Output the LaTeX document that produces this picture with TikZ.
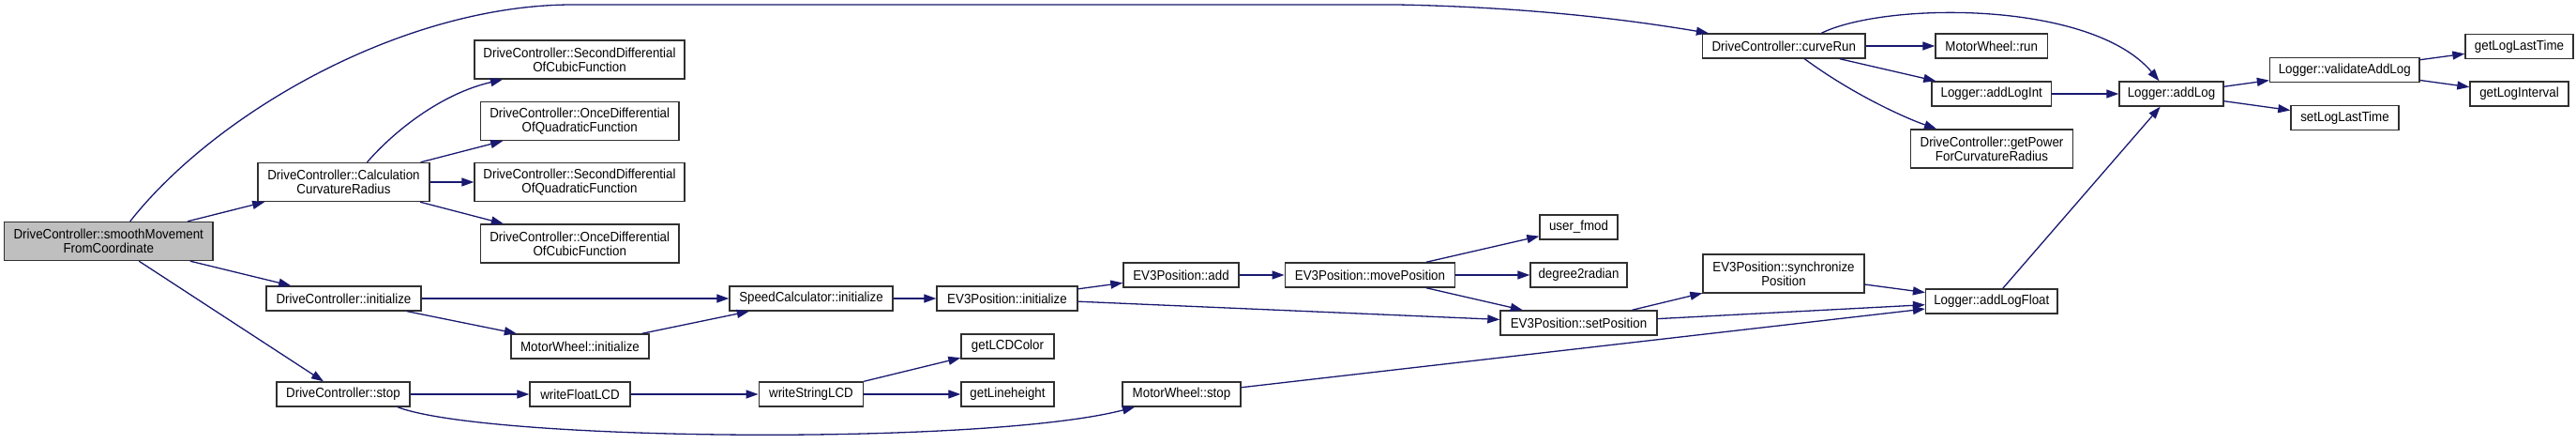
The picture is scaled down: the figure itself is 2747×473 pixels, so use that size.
\documentclass[tikz,border=0pt]{standalone}
\usepackage{fontspec}
\setmainfont{Liberation Sans}[FakeStretch=0.92]
\usetikzlibrary{arrows.meta}
\definecolor{edgeblue}{HTML}{191970}
\definecolor{boxline}{HTML}{303030}
\definecolor{rootfill}{HTML}{BFBFBF}
\tikzset{
  fn/.style={draw=boxline, line width=1.4pt, fill=white, inner sep=0pt, align=center,
    font=\fontsize{14.5}{15}\selectfont, minimum height=26pt},
  fn2/.style={fn, minimum height=41pt},
  edge/.style={draw=edgeblue, line width=1.3pt, -{Triangle[length=13pt,width=9pt]}}
}
\begin{document}
\begin{tikzpicture}[x=1pt,y=-1pt]
\useasboundingbox (0,0) rectangle (2747,473);
% nodes
\node[fn2, fill=rootfill, minimum width=222.5pt] (sm) at (115.75,257) {DriveController::smoothMovement\\FromCoordinate};
\node[fn2, minimum width=183pt] (calc) at (366.5,194) {DriveController::Calculation\\CurvatureRadius};
\node[fn2, minimum width=224pt] (sdc) at (618,63.5) {DriveController::SecondDifferential\\OfCubicFunction};
\node[fn2, minimum width=211.5pt] (odq) at (618.25,129) {DriveController::OnceDifferential\\OfQuadraticFunction};
\node[fn2, minimum width=224pt] (sdq) at (618,194) {DriveController::SecondDifferential\\OfQuadraticFunction};
\node[fn2, minimum width=211.5pt] (odc) at (618.25,259.5) {DriveController::OnceDifferential\\OfCubicFunction};
\node[fn, minimum width=165pt] (dcinit) at (366.5,318) {DriveController::initialize};
\node[fn, minimum width=147pt] (mwinit) at (618.5,369) {MotorWheel::initialize};
\node[fn, minimum width=142pt] (stop) at (366,420) {DriveController::stop};
\node[fn, minimum width=107pt] (wfl) at (618.5,420) {writeFloatLCD};
\node[fn, minimum width=174pt] (sci) at (865,318) {SpeedCalculator::initialize};
\node[fn, minimum width=150pt] (evinit) at (1074,318) {EV3Position::initialize};
\node[fn, minimum width=123pt] (add) at (1259.5,293) {EV3Position::add};
\node[fn, minimum width=181.5pt] (move) at (1461,293) {EV3Position::movePosition};
\node[fn, minimum width=99pt] (lcdc) at (1074.5,369) {getLCDColor};
\node[fn, minimum width=111.5pt] (wsl) at (865,420) {writeStringLCD};
\node[fn, minimum width=99pt] (lh) at (1074.5,420) {getLineheight};
\node[fn, minimum width=126pt] (mwstop) at (1260,420) {MotorWheel::stop};
\node[fn, minimum width=173.4pt] (curve) at (1902.3,49) {DriveController::curveRun};
\node[fn, minimum width=83pt] (fmod) at (1683.5,242) {user\_fmod};
\node[fn, minimum width=103pt] (d2r) at (1683.5,293) {degree2radian};
\node[fn2, minimum width=172pt] (sync) at (1902,291.5) {EV3Position::synchronize\\Position};
\node[fn, minimum width=167pt] (setp) at (1683.5,344) {EV3Position::setPosition};
\node[fn, minimum width=119.5pt] (mwrun) at (2123.75,49) {MotorWheel::run};
\node[fn, minimum width=127.5pt] (ali) at (2123.75,100) {Logger::addLogInt};
\node[fn2, minimum width=173pt] (gp) at (2124,158.5) {DriveController::getPower\\ForCurvatureRadius};
\node[fn, minimum width=140.4pt] (alf) at (2123.8,321) {Logger::addLogFloat};
\node[fn, minimum width=111pt] (al) at (2315.5,100) {Logger::addLog};
\node[fn, minimum width=159.5pt] (val) at (2500.25,74.5) {Logger::validateAddLog};
\node[fn, minimum width=115pt] (slt) at (2500.5,125.5) {setLogLastTime};
\node[fn, minimum width=115pt] (glt) at (2686.5,49.5) {getLogLastTime};
\node[fn, minimum width=105pt] (gli) at (2686.5,100) {getLogInterval};
% edges
\coordinate (t1) at (611,5);
\coordinate (t2) at (1490,5);
\draw[edge] ([xshift=23pt]sm.north) .. controls (230,120) and (430,5) .. (t1) -- (t2) .. controls (1650,8) and (1760,25) .. ([xshift=7pt]curve.north west);
\draw[edge] (sm) -- (calc);
\draw[edge] (sm) -- (dcinit);
\draw[edge] (sm) -- (stop);
\draw[edge] ([xshift=25pt]calc.north) .. controls (420,140) and (470,100) .. ([xshift=-82pt]sdc.south);
\draw[edge] (calc) -- (odq);
\draw[edge] (calc) -- (sdq);
\draw[edge] (calc) -- (odc);
\draw[edge] (dcinit) -- (sci);
\draw[edge] (dcinit) -- (mwinit);
\draw[edge] (mwinit) -- (sci);
\draw[edge] (stop) -- (wfl);
\draw[edge] ([xshift=58pt]stop.south) .. controls (520,470) and (1050,475) .. ([xshift=-50pt]mwstop.south);
\draw[edge] (wfl) -- (wsl);
\draw[edge] (sci) -- (evinit);
\draw[edge] (wsl) -- (lcdc);
\draw[edge] (wsl) -- (lh);
\draw[edge] (evinit) -- (add);
\draw[edge] (evinit) -- (setp);
\draw[edge] (add) -- (move);
\draw[edge] (move) -- (fmod);
\draw[edge] (move) -- (d2r);
\draw[edge] (move) -- (setp);
\draw[edge] (mwstop) -- (alf);
\draw[edge] (setp) -- (sync);
\draw[edge] (setp) -- (alf);
\draw[edge] (sync) -- (alf);
\draw[edge] (alf) -- (al);
\draw[edge] (curve) -- (mwrun);
\draw[edge] (curve) -- (ali);
\draw[edge] ([xshift=22pt]curve.south) .. controls (1975,100) and (2030,125) .. ([xshift=-59pt]gp.north);
\draw[edge] ([xshift=40pt]curve.north) .. controls (2010,2) and (2230,0) .. ([xshift=-13pt]al.north);
\draw[edge] (ali) -- (al);
\draw[edge] (al) -- (val);
\draw[edge] (al) -- (slt);
\draw[edge] (val) -- (glt);
\draw[edge] (val) -- (gli);
\end{tikzpicture}
\end{document}
